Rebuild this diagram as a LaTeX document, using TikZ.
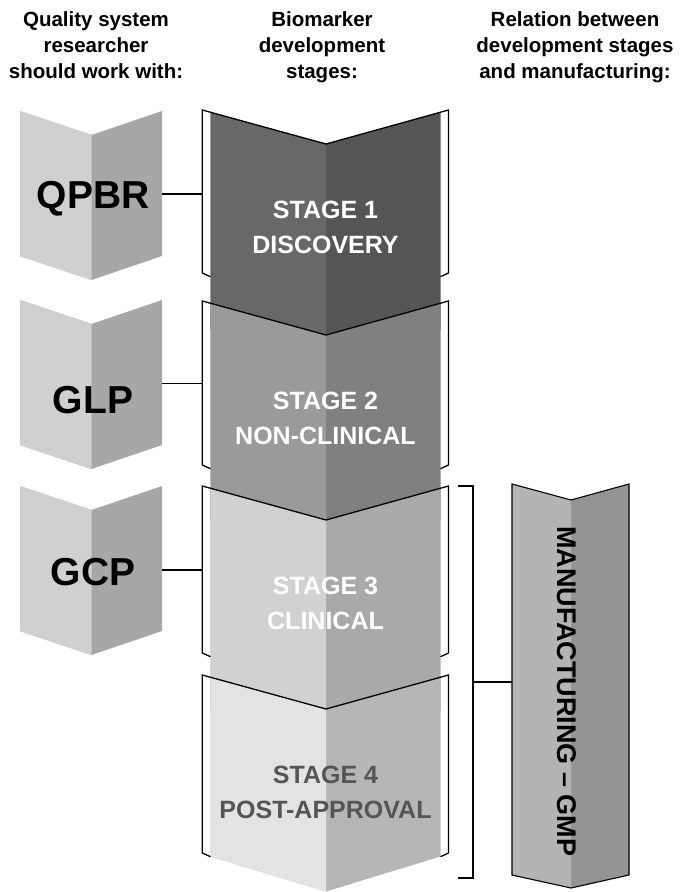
\documentclass[tikz,border=0pt]{standalone}
\usepackage{fontspec}
\setmainfont{Liberation Sans}

% greys of the panels
\definecolor{qsL}{HTML}{D0D0D0}
\definecolor{qsR}{HTML}{A7A7A7}
\definecolor{sOneL}{HTML}{686868}
\definecolor{sOneR}{HTML}{555555}
\definecolor{sTwoL}{HTML}{9A9A9A}
\definecolor{sTwoR}{HTML}{808080}
\definecolor{sThreeL}{HTML}{D1D1D1}
\definecolor{sThreeR}{HTML}{A9A9A9}
\definecolor{sFourL}{HTML}{E3E3E3}
\definecolor{sFourR}{HTML}{B6B6B6}
\definecolor{mfgL}{HTML}{B4B4B4}
\definecolor{mfgR}{HTML}{949494}
\definecolor{darktext}{HTML}{555555}

% quality-system chevron: #1 top y, #2 label, #3 label baseline, #4 node name
\newcommand{\qspanel}[4]{%
  \fill[qsR] (20,#1) -- (91.5,#1+24) -- (162,#1) -- (162,#1+145) -- (91.5,#1+169) -- (20,#1+145) -- cycle;
  \fill[qsL] (20,#1) -- (91.5,#1+24) -- (91.5,#1+169) -- (20,#1+145) -- cycle;
  \node[qslabel] (#4) at (93,#3) {#2};
}

% development stage: #1 top y, #2 bracket bottom y, #3 fill bottom y,
% #4 left grey, #5 right grey, #6 text colour, #7 text, #8 node name
\newcommand{\stagepanel}[8]{%
  \fill[#5] (210.5,#1+2.2) -- (326,#1+34) -- (440.5,#1+2.2) -- (440.5,#3) -- (326,#3+35) -- (210.5,#3) -- cycle;
  \fill[#4] (210.5,#1+2.2) -- (326,#1+34) -- (326,#3+35) -- (210.5,#3) -- cycle;
  \draw[outline] (210.5,#2+3.7) -- (202.3,#2) -- (202.3,#1) -- (326,#1+34)
                 -- (448.5,#1) -- (448.5,#2) -- (440.5,#2+3.7);
  \node[stagetext, text=#6] (#8) at (325.5,#1+117) {#7};
}

\begin{document}
\begin{tikzpicture}[x=1pt,y=-1pt,
  heading/.style={font=\fontsize{20.5}{26}\selectfont\bfseries, align=center, anchor=north, inner sep=0pt},
  stagetext/.style={font=\fontsize{25}{35}\selectfont\bfseries, align=center, inner sep=0pt},
  qslabel/.style={font=\fontsize{39}{39}\selectfont\bfseries, anchor=base, inner sep=0pt},
  outline/.style={line width=1.3pt, line join=miter},
  link/.style={line width=1.3pt},
]
\useasboundingbox (0,0) rectangle (680,892);

% column headings
\node[heading] (h1) at (96,11) {Quality system\\researcher\\should work with:};
\node[heading] (h2) at (322,11) {Biomarker\\development\\stages:};
\node[heading] (h3) at (575,11) {Relation between\\development stages\\and manufacturing:};

% quality systems
\qspanel{111}{QPBR}{208}{qpbr}
\qspanel{300}{GLP}{413}{glp}
\qspanel{486}{GCP}{585}{gcp}

% stages, each one laid over the bottom of the previous
\stagepanel{110}{273}{330}{sOneL}{sOneR}{white}{STAGE 1\\DISCOVERY}{st1}
\stagepanel{301}{465}{520}{sTwoL}{sTwoR}{white}{STAGE 2\\NON-CLINICAL}{st2}
\stagepanel{486}{653}{710}{sThreeL}{sThreeR}{white}{STAGE 3\\CLINICAL}{st3}
\stagepanel{675}{853}{856.5}{sFourL}{sFourR}{darktext}{STAGE 4\\POST-APPROVAL}{st4}

% manufacturing arrow
\fill[mfgR] (512,484) -- (571,500) -- (629,484) -- (629,875) -- (571,888) -- (512,875) -- cycle;
\fill[mfgL] (512,484) -- (571,500) -- (571,888) -- (512,875) -- cycle;
\draw[line width=1.1pt, line join=miter] (512,484) -- (571,500) -- (629,484) -- (629,875) -- (571,888) -- (512,875) -- cycle;
\node[font=\fontsize{27}{27}\selectfont\bfseries, rotate=-90, inner sep=0pt] (mfg) at (567,691.5) {MANUFACTURING – GMP};

% bracket grouping stages 3 and 4
\draw[outline] (458,486) -- (473,486) -- (473,878) -- (458,878);

% connector end points
\coordinate (qpbr-e) at (162,194);
\coordinate (st1-w)  at (202.3,194);
\coordinate (glp-e)  at (162,383.5);
\coordinate (st2-w)  at (202.3,383.5);
\coordinate (gcp-e)  at (162,570);
\coordinate (st3-w)  at (202.3,570);
\coordinate (grp-e)  at (473,682);
\coordinate (mfg-w)  at (512,682);

\draw[link] (qpbr-e) -- (st1-w);
\draw[link] (glp-e) -- (st2-w);
\draw[link] (gcp-e) -- (st3-w);
\draw[link] (grp-e) -- (mfg-w);
\end{tikzpicture}
\end{document}
